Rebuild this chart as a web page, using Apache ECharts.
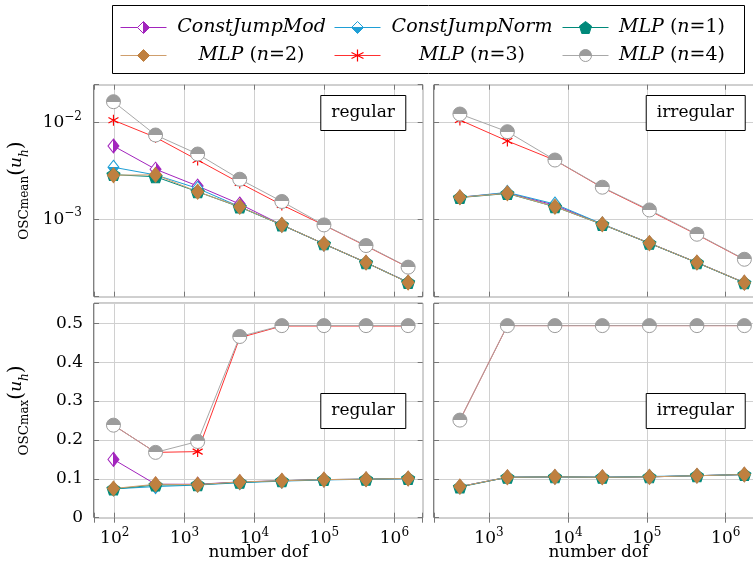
<!DOCTYPE html>
<html>
<head>
<meta charset="utf-8">
<title>Oscillation vs number of dofs</title>
<script src="https://cdn.jsdelivr.net/npm/echarts@6/dist/echarts.min.js"></script>
<style>
  html, body { margin: 0; padding: 0; background: #fff; }
  #chart { width: 753px; height: 566px; }
</style>
</head>
<body>
<div id="chart"></div>
<script>
// ---------------------------------------------------------------------------
// Data: number of degrees of freedom per refinement level
// ---------------------------------------------------------------------------
const dofRegular   = [96, 384, 1536, 6144, 24576, 98304, 393216, 1572864];
const dofIrregular = [428, 1710, 6850, 27300, 108000, 432000, 1725000];

const seriesNames = ['ConstJumpMod', 'ConstJumpNorm', 'MLP (n=1)', 'MLP (n=2)', 'MLP (n=3)', 'MLP (n=4)'];

// mean oscillation, regular meshes
const meanRegConstJumpMod  = [0.00574, 0.00330, 0.00221, 0.00144, 0.000875, 0.000557, 0.000357, 0.000223];
const meanRegConstJumpNorm = [0.00346, 0.00288, 0.00209, 0.00135, 0.000875, 0.000557, 0.000357, 0.000223];
const meanRegMLP1          = [0.00290, 0.00276, 0.00193, 0.00134, 0.000875, 0.000557, 0.000356, 0.000222];
const meanRegMLP2          = [0.00286, 0.00289, 0.00193, 0.00135, 0.000876, 0.000558, 0.000357, 0.000222];
const meanRegMLP3          = [0.0106, 0.00706, 0.00411, 0.00238, 0.00141, 0.000870, 0.000530, 0.000318];
const meanRegMLP4          = [0.0165, 0.00746, 0.00474, 0.00260, 0.00153, 0.000875, 0.000535, 0.000320];

// mean oscillation, irregular meshes
const meanIrrConstJumpMod  = [0.00169, 0.00188, 0.00140, 0.000889, 0.000567, 0.000357, 0.000221];
const meanIrrConstJumpNorm = [0.00169, 0.00190, 0.00144, 0.000895, 0.000567, 0.000357, 0.000221];
const meanIrrMLP1          = [0.00168, 0.00185, 0.00135, 0.000885, 0.000565, 0.000356, 0.000220];
const meanIrrMLP2          = [0.00169, 0.00186, 0.00135, 0.000889, 0.000567, 0.000357, 0.000221];
const meanIrrMLP3          = [0.01066, 0.00647, 0.00409, 0.00213, 0.00123, 0.000695, 0.000383];
const meanIrrMLP4          = [0.01230, 0.00807, 0.00411, 0.00215, 0.00125, 0.000701, 0.000386];

// max oscillation, regular meshes
const maxRegConstJumpMod  = [0.150, 0.086, 0.086, 0.092, 0.095, 0.098, 0.099, 0.101];
const maxRegConstJumpNorm = [0.074, 0.080, 0.084, 0.090, 0.094, 0.097, 0.099, 0.100];
const maxRegMLP1          = [0.074, 0.084, 0.085, 0.091, 0.095, 0.098, 0.099, 0.101];
const maxRegMLP2          = [0.075, 0.086, 0.085, 0.092, 0.095, 0.098, 0.099, 0.101];
const maxRegMLP3          = [0.238, 0.168, 0.170, 0.463, 0.493, 0.493, 0.493, 0.493];
const maxRegMLP4          = [0.238, 0.168, 0.196, 0.466, 0.494, 0.494, 0.494, 0.494];

// max oscillation, irregular meshes
const maxIrrConstJumpMod  = [0.080, 0.104, 0.105, 0.104, 0.105, 0.108, 0.111];
const maxIrrConstJumpNorm = [0.080, 0.104, 0.105, 0.104, 0.106, 0.108, 0.111];
const maxIrrMLP1          = [0.079, 0.104, 0.105, 0.104, 0.105, 0.108, 0.111];
const maxIrrMLP2          = [0.080, 0.104, 0.105, 0.104, 0.105, 0.108, 0.111];
const maxIrrMLP3          = [0.251, 0.494, 0.494, 0.494, 0.494, 0.494, 0.494];
const maxIrrMLP4          = [0.251, 0.494, 0.494, 0.494, 0.494, 0.494, 0.494];

// ---------------------------------------------------------------------------
// Styling
// ---------------------------------------------------------------------------
const FONT = 'DejaVu Serif';
const LG = echarts.graphic.LinearGradient;

// two-tone marker fill, split down the middle
function halfFill(horizontal, first, second) {
  const stops = [
    { offset: 0, color: first }, { offset: 0.5, color: first },
    { offset: 0.5, color: second }, { offset: 1, color: second }
  ];
  return horizontal ? new LG(0, 0, 1, 0, stops) : new LG(0, 0, 0, 1, stops);
}

const PENTAGON = 'path://M0,-1L0.951,-0.309L0.588,0.809L-0.588,0.809L-0.951,-0.309Z';
const ASTERISK = 'path://M0,-1L0,1M-0.866,-0.5L0.866,0.5M-0.866,0.5L0.866,-0.5';

const markStyle = {
  'ConstJumpMod':  { line: '#a224bd', symbol: 'diamond', size: [11, 14], fill: halfFill(true, '#ffffff', '#a224bd'), border: '#a224bd', bw: 1 },
  'ConstJumpNorm': { line: '#1f9fd6', symbol: 'diamond', size: [11, 14], fill: halfFill(false, '#ffffff', '#1f9fd6'), border: '#1f9fd6', bw: 1 },
  'MLP (n=1)':     { line: '#00897a', symbol: PENTAGON,  size: [13, 12], fill: '#00897a', border: '#00897a', bw: 1 },
  'MLP (n=2)':     { line: '#cf9e6c', symbol: 'diamond', size: [12, 15], fill: '#bf8040', border: '#bf8040', bw: 1 },
  'MLP (n=3)':     { line: '#ff3030', symbol: ASTERISK,  size: [10, 11], fill: '#ff0000', border: '#ff0000', bw: 1.2 },
  'MLP (n=4)':     { line: '#a8a8a8', symbol: 'circle',  size: 14,       fill: halfFill(false, '#9c9c9c', '#ffffff'), border: '#9c9c9c', bw: 1 }
};

// panel layout: [regular mean, irregular mean, regular max, irregular max]
const panels = [
  { left: 94,  top: 84.7,  width: 328.7, height: 212,   xr: [1.704, 6.405], kind: 'mean', xLabels: false, yLabels: true,  tag: 'regular' },
  { left: 434, top: 84.7,  width: 328.7, height: 212,   xr: [2.303, 6.469], kind: 'mean', xLabels: false, yLabels: false, tag: 'irregular' },
  { left: 94,  top: 303.3, width: 328.7, height: 214.4, xr: [1.704, 6.405], kind: 'max',  xLabels: true,  yLabels: true,  tag: 'regular' },
  { left: 434, top: 303.3, width: 328.7, height: 214.4, xr: [2.303, 6.469], kind: 'max',  xLabels: true,  yLabels: false, tag: 'irregular' }
];

const panelData = [
  { x: dofRegular,   ys: [meanRegConstJumpMod, meanRegConstJumpNorm, meanRegMLP1, meanRegMLP2, meanRegMLP3, meanRegMLP4] },
  { x: dofIrregular, ys: [meanIrrConstJumpMod, meanIrrConstJumpNorm, meanIrrMLP1, meanIrrMLP2, meanIrrMLP3, meanIrrMLP4] },
  { x: dofRegular,   ys: [maxRegConstJumpMod, maxRegConstJumpNorm, maxRegMLP1, maxRegMLP2, maxRegMLP3, maxRegMLP4] },
  { x: dofIrregular, ys: [maxIrrConstJumpMod, maxIrrConstJumpNorm, maxIrrMLP1, maxIrrMLP2, maxIrrMLP3, maxIrrMLP4] }
];

const meanRange = [-3.801, -1.6066];   // log10 limits of the mean plots
const maxRange  = [0, 0.5514];         // limits of the max plots

// powers of ten as "10" with a raised exponent
function powerLabel(v) {
  const l = Math.log10(v);
  const r = Math.round(l);
  if (Math.abs(l - r) > 1e-6) return '';
  return '{b|10}{s|' + (r < 0 ? '\u2212' + (-r) : r) + '}';
}
const powerRich = {
  b: { fontFamily: FONT, fontSize: 17, lineHeight: 24, color: '#000' },
  s: { fontFamily: FONT, fontSize: 12, lineHeight: 12, padding: [0, 0, 12, 0], color: '#000' }
};
function linearLabel(v) {
  const r = Math.round(v * 10) / 10;
  if (Math.abs(v - r) > 1e-6) return '';
  return r === 0 ? '0' : r.toFixed(1);
}

// y-axis caption: small-caps "osc" with a subscript, then (u_h)
const nameRich = {
  sc:  { fontFamily: FONT, fontSize: 13.5, lineHeight: 25, verticalAlign: 'bottom', color: '#000' },
  sub: { fontFamily: FONT, fontSize: 12, lineHeight: 15, verticalAlign: 'bottom', color: '#000' },
  p:   { fontFamily: FONT, fontSize: 20, lineHeight: 28, color: '#000' },
  it:  { fontFamily: FONT, fontStyle: 'italic', fontSize: 17, lineHeight: 28, color: '#000' },
  sit: { fontFamily: FONT, fontStyle: 'italic', fontSize: 12, lineHeight: 15, verticalAlign: 'bottom', color: '#000' }
};

const TICK = { inside: true, length: 5, lineStyle: { color: '#777', width: 1 } };
const GRIDLINE = { show: true, lineStyle: { color: '#d0d0d0', width: 1 } };

const grids = [], xAxes = [], yAxes = [], series = [], titles = [], texts = [];

panels.forEach((p, gi) => {
  grids.push({ left: p.left, top: p.top, width: p.width, height: p.height,
               show: true, borderColor: '#000', borderWidth: 1, backgroundColor: 'transparent',
               outerBoundsMode: 'none', containLabel: false });

  const xBase = { gridIndex: gi, type: 'log', logBase: 10,
                  min: Math.pow(10, p.xr[0]), max: Math.pow(10, p.xr[1]),
                  axisLine: { show: false } };
  xAxes.push(Object.assign({}, xBase, {
    position: 'bottom', axisTick: TICK, splitLine: GRIDLINE,
    axisLabel: { show: p.xLabels, formatter: powerLabel, rich: powerRich, margin: 9, verticalAlign: 'top',
                 showMinLabel: true, showMaxLabel: true, hideOverlap: false }
  }));
  xAxes.push(Object.assign({}, xBase, {
    position: 'top', axisTick: TICK, splitLine: { show: false }, axisLabel: { show: false }
  }));

  // x-axis caption centred under the panel
  if (p.xLabels) {
    texts.push({
      type: 'text', silent: true, x: p.left + p.width / 2, y: 553,
      style: { text: 'number dof', align: 'center', verticalAlign: 'middle',
               fontFamily: FONT, fontSize: 17, fill: '#000' }
    });
  }

  let yBase;
  if (p.kind === 'mean') {
    yBase = { gridIndex: gi, type: 'log', logBase: 10,
              min: Math.pow(10, meanRange[0]), max: Math.pow(10, meanRange[1]), axisLine: { show: false } };
  } else {
    yBase = { gridIndex: gi, type: 'value', min: maxRange[0], max: maxRange[1], interval: 0.1,
              axisLine: { show: false } };
  }
  const yName = p.kind === 'mean'
    ? '{sc|OSC}{sub|mean}{p|(}{it|u}{sit|h}{p|)}'
    : '{sc|OSC}{sub|max}{p|(}{it|u}{sit|h}{p|)}';
  yAxes.push(Object.assign({}, yBase, {
    position: 'left', axisTick: TICK, splitLine: GRIDLINE,
    axisLabel: p.kind === 'mean'
      ? { show: p.yLabels, formatter: powerLabel, rich: powerRich, margin: 12, showMinLabel: true, showMaxLabel: true, hideOverlap: false }
      : { show: p.yLabels, formatter: linearLabel, fontFamily: FONT, fontSize: 17, color: '#000', margin: 11,
          showMinLabel: true, showMaxLabel: true, hideOverlap: false },
    name: p.yLabels ? yName : '', nameLocation: 'middle', nameRotate: 90, nameGap: 63, nameMoveOverlap: false,
    nameTextStyle: { rich: nameRich }
  }));
  yAxes.push(Object.assign({}, yBase, {
    position: 'right', axisTick: TICK, splitLine: { show: false }, axisLabel: { show: false }
  }));

  const d = panelData[gi];
  seriesNames.forEach((name, si) => {
    const s = markStyle[name];
    series.push({
      type: 'line', name: name,
      xAxisIndex: gi * 2, yAxisIndex: gi * 2,
      data: d.x.map((x, i) => [x, d.ys[si][i]]),
      symbol: s.symbol, symbolSize: s.size, showSymbol: true, showAllSymbol: true,
      lineStyle: { color: s.line, width: 1 },
      itemStyle: { color: s.fill, borderColor: s.border, borderWidth: s.bw },
      emphasis: { disabled: true }, silent: true, animation: false
    });
  });

  // boxed panel tag
  titles.push({
    text: p.tag,
    right: gi % 2 === 0 ? 347 : 8,
    top: p.kind === 'mean' ? 95 : 393,
    padding: [8, 11],
    borderWidth: 1, borderColor: '#000', backgroundColor: '#fff',
    textStyle: { fontFamily: FONT, fontSize: 17, fontWeight: 'normal', color: '#000', lineHeight: 20 }
  });
});

// legend: one component per entry, laid out in a 3x2 table inside a frame
const legendCols = [{ left: 120, w: 160 }, { left: 334, w: 173 }, { left: 562, w: 117 }];
const legendRowTop = [18, 46];
const legendRich = {
  i: { fontFamily: FONT, fontStyle: 'italic', fontSize: 19, lineHeight: 22, align: 'center', color: '#000' },
  r: { fontFamily: FONT, fontSize: 19, lineHeight: 22, align: 'center', color: '#000' }
};
function legendText(name) {
  const m = name.match(/^MLP \(n=(\d)\)$/);
  if (m) return '{i|MLP}{r| (}{i|n}{r|=' + m[1] + ')}';
  return '{i|' + name + '}';
}
const legends = seriesNames.map((name, k) => {
  const col = legendCols[k % 3];
  const s = markStyle[name];
  return {
    data: [name], left: col.left, top: legendRowTop[Math.floor(k / 3)], padding: 0,
    itemWidth: 46, itemHeight: 15, itemGap: 0, selectedMode: false,
    itemStyle: { color: s.fill, borderColor: s.border, borderWidth: s.bw },
    lineStyle: { color: s.line, width: 1 },
    formatter: legendText,
    textStyle: { width: col.w, rich: legendRich }
  };
});

// frame around the legend table
texts.push({
  type: 'rect', silent: true,
  shape: { x: 112.5, y: 5.5, width: 632, height: 68 },
  style: { fill: 'none', stroke: '#000', lineWidth: 1 }
});

const chart = echarts.init(document.getElementById('chart'), null, { renderer: 'canvas' });
chart.setOption({
  animation: false,
  backgroundColor: '#fff',
  grid: grids,
  xAxis: xAxes,
  yAxis: yAxes,
  series: series,
  title: titles,
  legend: legends,
  graphic: texts
});
</script>
</body>
</html>
